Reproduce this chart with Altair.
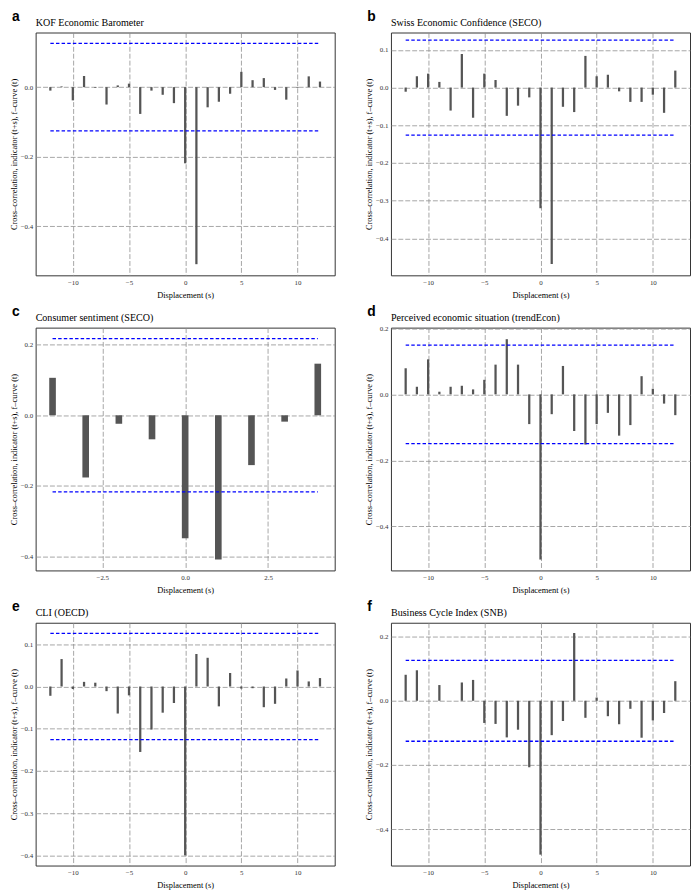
import altair as alt
import pandas as pd

# ---- data -----------------------------------------------------------------
lags = [-12, -11, -10, -9, -8, -7, -6, -5, -4, -3, -2, -1, 0,
        1, 2, 3, 4, 5, 6, 7, 8, 9, 10, 11, 12]
lags_c = [-4, -3, -2, -1, 0, 1, 2, 3, 4]

kof = [-0.010, 0.002, -0.038, 0.032, -0.002, -0.050, 0.005, 0.010, -0.077,
       -0.010, -0.022, -0.046, -0.219, -0.509, -0.058, -0.042, -0.019,
       0.044, 0.020, 0.026, -0.008, -0.036, -0.002, 0.031, 0.016]
seco = [-0.011, 0.030, 0.037, 0.015, -0.061, 0.089, -0.080, 0.037, 0.020,
        -0.075, -0.048, -0.026, -0.320, -0.468, -0.051, -0.065, 0.084,
        0.030, 0.034, -0.010, -0.038, -0.038, -0.019, -0.067, 0.045]
consumer = [0.106, -0.176, -0.024, -0.068, -0.348, -0.408, -0.141, -0.018, 0.146]
trend = [0.079, 0.023, 0.106, 0.008, 0.023, 0.026, 0.015, 0.044, 0.090,
         0.167, 0.090, -0.090, -0.500, -0.060, 0.086, -0.111, -0.152,
         -0.090, -0.056, -0.125, -0.093, 0.055, 0.017, -0.028, -0.063]
cli = [-0.022, 0.065, -0.006, 0.011, 0.009, -0.011, -0.064, -0.021, -0.155,
       -0.102, -0.062, -0.039, -0.400, 0.077, 0.068, -0.047, 0.032,
       -0.005, -0.004, -0.049, -0.041, 0.019, 0.038, 0.012, 0.020]
snb = [0.081, 0.095, 0.000, 0.049, 0.000, 0.057, 0.065, -0.069, -0.072,
       -0.114, -0.090, -0.207, -0.479, -0.107, -0.063, 0.211, -0.053,
       0.010, -0.048, -0.073, -0.025, -0.115, -0.061, -0.038, 0.061]

letters = ["a", "b", "c", "d", "e", "f"]
titles = ["KOF Economic Barometer", "Swiss Economic Confidence (SECO)",
          "Consumer sentiment (SECO)", "Perceived economic situation (trendEcon)",
          "CLI (OECD)", "Business Cycle Index (SNB)"]
bands = [0.126, 0.126, 0.217, 0.149, 0.126, 0.126]
y_domains = [[-0.541, 0.157], [-0.498, 0.146], [-0.439, 0.248],
             [-0.533, 0.202], [-0.424, 0.151], [-0.513, 0.243]]
y_ticks = [[0.0, -0.2, -0.4], [0.1, 0.0, -0.1, -0.2, -0.3, -0.4],
           [0.2, 0.0, -0.2, -0.4], [0.2, 0.0, -0.2, -0.4],
           [0.1, 0.0, -0.1, -0.2, -0.3, -0.4], [0.2, 0.0, -0.2, -0.4]]
x_ticks_full = [-10, -5, 0, 5, 10]
x_ticks_c = [-2.5, 0.0, 2.5]

W, H = 303, 246
SERIF = "Liberation Serif"
YTITLE = "Cross\u2013correlation, indicator (t+s), f\u2013curve (t)"


def panel(letter, title, s, r, band, ydom, yticks, xticks, xfmt):
    df = pd.DataFrame({"s": s, "r": r})
    lo, hi = min(s), max(s)
    half = (hi - lo + 0.2) * 0.05 + 0.1
    xdom = [lo - half, hi + half]
    xs = alt.Scale(domain=xdom, nice=False, zero=False)
    ys = alt.Scale(domain=ydom, nice=False, zero=False)

    bars = alt.Chart(df).transform_calculate(
        x1="datum.s - 0.1", x2="datum.s + 0.1"
    ).mark_bar(color="#555555").encode(
        x=alt.X("x1:Q", scale=xs,
                axis=alt.Axis(values=xticks, format=xfmt, title="Displacement (s)",
                              titlePadding=5)),
        x2="x2:Q",
        y=alt.Y("r:Q", scale=ys,
                axis=alt.Axis(values=yticks, format=".1f", title=YTITLE)),
        y2=alt.datum(0),
    )
    bdf = pd.DataFrame({"y": [band, -band], "x": [lo, lo], "x2": [hi, hi]})
    lines = alt.Chart(bdf).mark_rule(color="#0000ff", strokeWidth=1.3,
                                     strokeDash=[3.5, 2.2]).encode(
        x=alt.X("x:Q", scale=xs), x2="x2:Q", y=alt.Y("y:Q", scale=ys))
    tdf = pd.DataFrame({"t": [letter], "n": [title]})
    lab = alt.Chart(tdf).mark_text(
        font="Liberation Sans", fontWeight="bold", fontSize=14, align="left",
        baseline="alphabetic", color="black").encode(
        text="t:N", x=alt.value(-24), y=alt.value(-12))
    ttl = alt.Chart(tdf).mark_text(
        font=SERIF, fontSize=10.2, align="left", baseline="alphabetic",
        color="black").encode(text="n:N", x=alt.value(0), y=alt.value(-7))
    return alt.layer(bars, lines, lab, ttl).properties(width=W, height=H)


series = [kof, seco, consumer, trend, cli, snb]
panels = []
for i in range(6):
    s = lags_c if i == 2 else lags
    xt = x_ticks_c if i == 2 else x_ticks_full
    xf = ".1f" if i == 2 else "d"
    panels.append(panel(letters[i], titles[i], s, series[i], bands[i],
                        y_domains[i], y_ticks[i], xt, xf))

rows = [alt.hconcat(panels[2 * k], panels[2 * k + 1], spacing=28) for k in range(3)]
chart = alt.vconcat(*rows, spacing=5).properties(
    padding={"top": -5, "left": 0, "right": 0, "bottom": 0}
).configure_view(
    stroke="#333333", strokeWidth=1
).configure_axis(
    labelFont=SERIF, labelFontSize=7, labelColor="#333333",
    titleFont=SERIF, titleFontSize=8.5, titleFontWeight="normal", titleColor="black",
    domain=False, ticks=False, labelPadding=3, titlePadding=2,
    grid=True, gridColor="#8f8f8f", gridDash=[5, 2], gridWidth=0.8,
)

chart.save("out.html", embed_options={"renderer": "svg", "actions": False})
